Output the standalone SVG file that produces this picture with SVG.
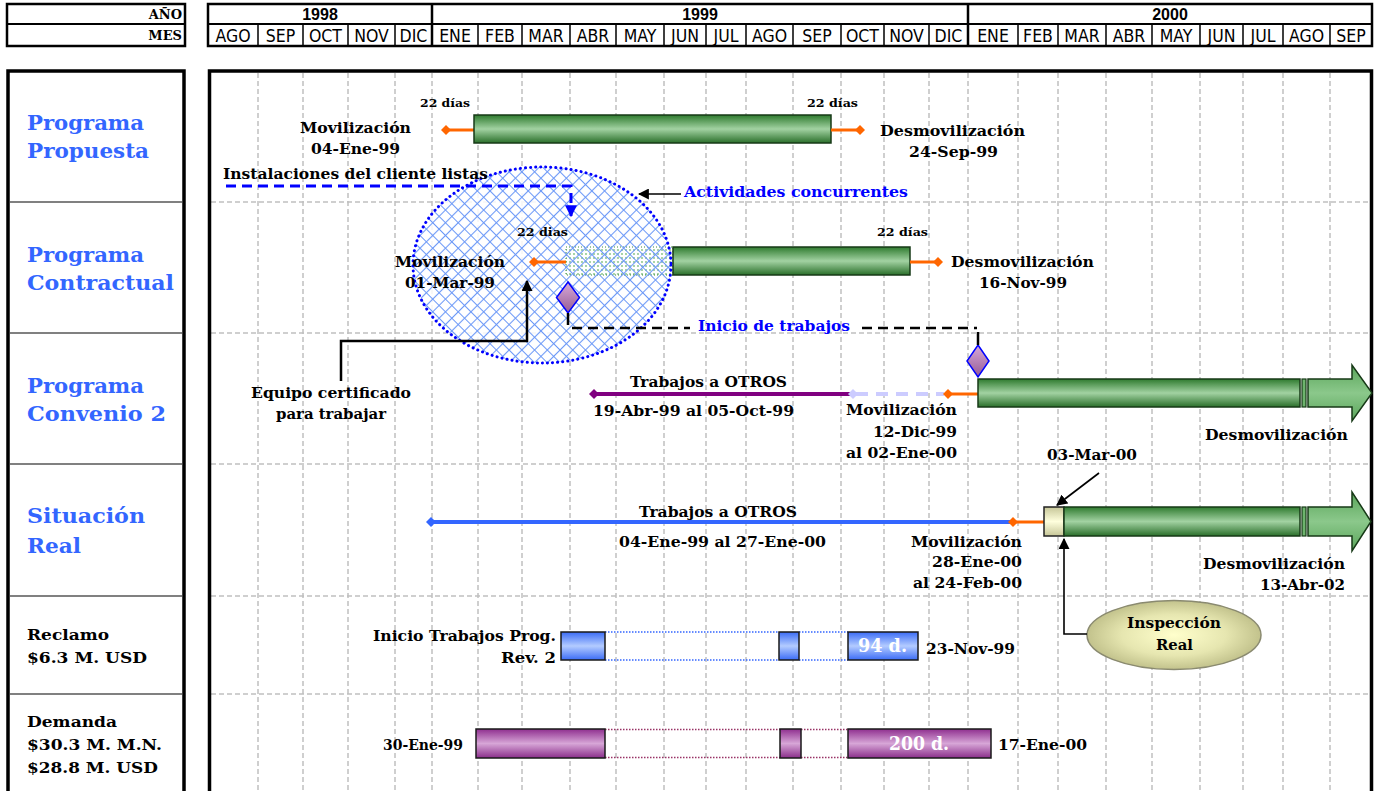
<svg xmlns="http://www.w3.org/2000/svg" width="1379" height="791" viewBox="0 0 1379 791">
<defs>
<linearGradient id="gGreen" x1="0" y1="0" x2="0" y2="1">
<stop offset="0" stop-color="#2f7b2f"/><stop offset="0.5" stop-color="#a2d2a2"/><stop offset="1" stop-color="#2a6f2a"/>
</linearGradient>
<linearGradient id="gArrow" x1="0" y1="0" x2="0" y2="1">
<stop offset="0" stop-color="#5aa55a"/><stop offset="0.5" stop-color="#8bc88b"/><stop offset="1" stop-color="#5aa55a"/>
</linearGradient>
<linearGradient id="gBlue" x1="0" y1="0" x2="0" y2="1">
<stop offset="0" stop-color="#3b6cf6"/><stop offset="0.5" stop-color="#b3cbff"/><stop offset="1" stop-color="#3b6cf6"/>
</linearGradient>
<linearGradient id="gPurple" x1="0" y1="0" x2="0" y2="1">
<stop offset="0" stop-color="#8f2f8f"/><stop offset="0.5" stop-color="#d7a6d7"/><stop offset="1" stop-color="#8a2d8a"/>
</linearGradient>
<linearGradient id="gCream" x1="0" y1="0" x2="0" y2="1">
<stop offset="0" stop-color="#c6c698"/><stop offset="0.5" stop-color="#ffffdd"/><stop offset="1" stop-color="#c6c698"/>
</linearGradient>
<linearGradient id="gDiamond" x1="0" y1="0" x2="0" y2="1">
<stop offset="0" stop-color="#d8aad8"/><stop offset="1" stop-color="#955b95"/>
</linearGradient>
<radialGradient id="gInsp" cx="0.5" cy="0.5" r="0.5">
<stop offset="0" stop-color="#ffffcc"/><stop offset="0.6" stop-color="#e6e6b0"/><stop offset="1" stop-color="#c2c28c"/>
</radialGradient>
<pattern id="hatch" width="9" height="9" patternUnits="userSpaceOnUse" patternTransform="rotate(45)">
<path d="M0 4.5H9M4.5 0V9" stroke="#6b98f7" stroke-width="1.1"/>
</pattern>
<pattern id="dots" width="4" height="4" patternUnits="userSpaceOnUse">
<circle cx="2" cy="2" r="0.9" fill="#7fbf7f"/>
</pattern>
<marker id="ahB" viewBox="0 0 10 10" refX="9" refY="5" markerWidth="11" markerHeight="11" markerUnits="userSpaceOnUse" orient="auto">
<path d="M0,0 L10,5 L0,10 Z" fill="#000"/>
</marker>
<marker id="ahBlue" viewBox="0 0 10 10" refX="9" refY="5" markerWidth="12" markerHeight="12" markerUnits="userSpaceOnUse" orient="auto">
<path d="M0,0 L10,5 L0,10 Z" fill="#0000FF"/>
</marker>
<path id="dia" d="M0,-5L5,0L0,5L-5,0Z"/>
</defs>
<style>
.b{font-family:"DejaVu Serif","Liberation Serif",serif;font-weight:bold;font-size:15px;fill:#000}
.s{font-size:11px}
.lb{font-family:"DejaVu Serif","Liberation Serif",serif;font-weight:bold;font-size:20px;fill:#3366FF}
.lk{font-size:15.5px}
.blue{fill:#0000FF}
.w{fill:#fff;font-size:18px}
.mon{font-family:"Liberation Sans Narrow","DejaVu Sans Condensed","Liberation Sans",sans-serif;font-stretch:condensed;font-size:17.5px;text-anchor:middle;fill:#000}
.yr{font-family:"Liberation Sans","DejaVu Sans",sans-serif;font-weight:bold;font-size:16px;text-anchor:middle;fill:#000}
.hd{font-family:"DejaVu Serif","Liberation Serif",serif;font-weight:bold;font-size:13px;text-anchor:end;fill:#000}
.grid{stroke:#c0c0c0;stroke-width:1.5;stroke-dasharray:5 3;fill:none}
.bar{fill:url(#gGreen);stroke:#173a17;stroke-width:1.5}
.org{stroke:#FF6600;stroke-width:3;fill:none}
.con{fill:none;stroke:#000}
</style>
<rect width="1379" height="791" fill="#fff"/>

<g id="header">
<rect x="7" y="4" width="178" height="42" fill="#fff" stroke="#000" stroke-width="2.5"/>
<line x1="7" y1="24" x2="185" y2="24" stroke="#000" stroke-width="2"/>
<text class="hd" x="182" y="19">AÑO</text>
<text class="hd" x="182" y="40">MES</text>
<rect x="208" y="4" width="1164" height="42" fill="#fff" stroke="#000" stroke-width="2.5"/>
<line x1="208" y1="24" x2="1372" y2="24" stroke="#000" stroke-width="2"/>
<path d="M432 4V46M968 4V46" stroke="#000" stroke-width="2.5"/>
<path d="M258 24V46M303 24V46M348 24V46M395 24V46M478 24V46M522 24V46M570 24V46M616 24V46M664 24V46M706 24V46M746 24V46M793 24V46M841 24V46M884 24V46M929 24V46M1018 24V46M1058 24V46M1106 24V46M1152 24V46M1200 24V46M1243 24V46M1283 24V46M1330 24V46" stroke="#000" stroke-width="1.5"/>
<text class="yr" x="320" y="20">1998</text>
<text class="yr" x="700" y="20">1999</text>
<text class="yr" x="1170" y="20">2000</text>
<text class="mon" x="233" y="42">AGO</text>
<text class="mon" x="280.5" y="42">SEP</text>
<text class="mon" x="325.5" y="42">OCT</text>
<text class="mon" x="371.5" y="42">NOV</text>
<text class="mon" x="413.5" y="42">DIC</text>
<text class="mon" x="455" y="42">ENE</text>
<text class="mon" x="500" y="42">FEB</text>
<text class="mon" x="546" y="42">MAR</text>
<text class="mon" x="593" y="42">ABR</text>
<text class="mon" x="640" y="42">MAY</text>
<text class="mon" x="685" y="42">JUN</text>
<text class="mon" x="726" y="42">JUL</text>
<text class="mon" x="769.5" y="42">AGO</text>
<text class="mon" x="817" y="42">SEP</text>
<text class="mon" x="862.5" y="42">OCT</text>
<text class="mon" x="906.5" y="42">NOV</text>
<text class="mon" x="948.5" y="42">DIC</text>
<text class="mon" x="993" y="42">ENE</text>
<text class="mon" x="1038" y="42">FEB</text>
<text class="mon" x="1082" y="42">MAR</text>
<text class="mon" x="1129" y="42">ABR</text>
<text class="mon" x="1176" y="42">MAY</text>
<text class="mon" x="1221.5" y="42">JUN</text>
<text class="mon" x="1263" y="42">JUL</text>
<text class="mon" x="1306.5" y="42">AGO</text>
<text class="mon" x="1351" y="42">SEP</text>
</g>

<g id="left-panel">
<rect x="8" y="71" width="176" height="740" fill="#fff" stroke="#000" stroke-width="3.5"/>
<path d="M10 202H182M10 333H182M10 464H182M10 596H182M10 694H182" stroke="#808080" stroke-width="2"/>
<text class="lb" x="27" y="130" textLength="117" lengthAdjust="spacingAndGlyphs">Programa</text>
<text class="lb" x="27" y="158" textLength="122" lengthAdjust="spacingAndGlyphs">Propuesta</text>
<text class="lb" x="27" y="262" textLength="117" lengthAdjust="spacingAndGlyphs">Programa</text>
<text class="lb" x="27" y="290" textLength="147" lengthAdjust="spacingAndGlyphs">Contractual</text>
<text class="lb" x="27" y="393" textLength="117" lengthAdjust="spacingAndGlyphs">Programa</text>
<text class="lb" x="27" y="421" textLength="139" lengthAdjust="spacingAndGlyphs">Convenio 2</text>
<text class="lb" x="27" y="523" textLength="118" lengthAdjust="spacingAndGlyphs">Situación</text>
<text class="lb" x="27" y="553" textLength="54" lengthAdjust="spacingAndGlyphs">Real</text>
<text class="b lk" x="27" y="640" textLength="82" lengthAdjust="spacingAndGlyphs">Reclamo</text>
<text class="b lk" x="27" y="663" textLength="120" lengthAdjust="spacingAndGlyphs">$6.3 M. USD</text>
<text class="b lk" x="27" y="727" textLength="90" lengthAdjust="spacingAndGlyphs">Demanda</text>
<text class="b lk" x="27" y="750" textLength="135" lengthAdjust="spacingAndGlyphs">$30.3 M. M.N.</text>
<text class="b lk" x="27" y="773" textLength="131" lengthAdjust="spacingAndGlyphs">$28.8 M. USD</text>
</g>

<g id="chart-frame">
<rect x="209.5" y="71" width="1162" height="740" fill="#fff"/>
<path class="grid" d="M258 73V791M303 73V791M348 73V791M395 73V791M432 73V791M478 73V791M522 73V791M570 73V791M616 73V791M664 73V791M706 73V791M746 73V791M793 73V791M841 73V791M884 73V791M929 73V791M968 73V791M1018 73V791M1058 73V791M1106 73V791M1152 73V791M1200 73V791M1243 73V791M1283 73V791M1330 73V791"/>
<path class="grid" d="M211 202H1370M211 333H1370M211 464H1370M211 596H1370M211 694H1370"/>
<rect x="209.5" y="71" width="1162" height="740" fill="none" stroke="#000" stroke-width="3.5"/>
</g>

<g id="node-actividades-concurrentes">
<ellipse cx="542" cy="265" rx="129" ry="98" fill="#fff" fill-opacity="0.85"/>
<rect x="566" y="247" width="107" height="28" fill="url(#dots)" stroke="#3a8a3a" stroke-width="1" stroke-dasharray="1 2"/>
<ellipse cx="542" cy="265" rx="129" ry="98" fill="url(#hatch)"/>
<ellipse cx="542" cy="265" rx="129" ry="98" fill="none" stroke="#0000FF" stroke-width="3" stroke-dasharray="0.1 5" stroke-linecap="round"/>
<text class="b blue" x="684" y="197" textLength="224" lengthAdjust="spacingAndGlyphs">Actividades concurrentes</text>
</g>

<g id="node-propuesta">
<line class="org" x1="446" y1="130" x2="474" y2="130"/>
<use href="#dia" x="446" y="130" fill="#FF6600"/>
<rect class="bar" x="474" y="115" width="357" height="28"/>
<line class="org" x1="831" y1="130" x2="860" y2="130"/>
<use href="#dia" x="860" y="130" fill="#FF6600"/>
<text class="b s" x="420" y="107" textLength="50" lengthAdjust="spacingAndGlyphs">22 días</text>
<text class="b s" x="807" y="107" textLength="51" lengthAdjust="spacingAndGlyphs">22 días</text>
<text class="b" x="300" y="133" textLength="111" lengthAdjust="spacingAndGlyphs">Movilización</text>
<text class="b" x="311" y="154" textLength="89" lengthAdjust="spacingAndGlyphs">04-Ene-99</text>
<text class="b" x="880" y="136" textLength="145" lengthAdjust="spacingAndGlyphs">Desmovilización</text>
<text class="b" x="909" y="157" textLength="89" lengthAdjust="spacingAndGlyphs">24-Sep-99</text>
<text class="b" x="223" y="179" textLength="265" lengthAdjust="spacingAndGlyphs">Instalaciones del cliente listas</text>
</g>

<g id="node-contractual">
<line class="org" x1="534" y1="262" x2="566" y2="262"/>
<use href="#dia" x="534" y="262" fill="#FF6600"/>
<rect class="bar" x="673" y="247" width="237" height="28"/>
<line class="org" x1="910" y1="262" x2="938" y2="262"/>
<use href="#dia" x="938" y="262" fill="#FF6600"/>
<polygon points="568,282 579.5,297.5 568,313 556.5,297.5" fill="url(#gDiamond)" stroke="#0000FF" stroke-width="1.5"/>
<text class="b s" x="517" y="236" textLength="51" lengthAdjust="spacingAndGlyphs">22 dias</text>
<text class="b s" x="877" y="236" textLength="51" lengthAdjust="spacingAndGlyphs">22 días</text>
<text class="b" x="395" y="267" textLength="110" lengthAdjust="spacingAndGlyphs">Movilización</text>
<text class="b" x="405" y="288" textLength="90" lengthAdjust="spacingAndGlyphs">01-Mar-99</text>
<text class="b" x="951" y="267" textLength="143" lengthAdjust="spacingAndGlyphs">Desmovilización</text>
<text class="b" x="979" y="288" textLength="88" lengthAdjust="spacingAndGlyphs">16-Nov-99</text>
</g>

<g id="node-equipo-certificado">
<text class="b" x="251" y="398" textLength="160" lengthAdjust="spacingAndGlyphs">Equipo certificado</text>
<text class="b" x="276" y="419" textLength="110" lengthAdjust="spacingAndGlyphs">para trabajar</text>
</g>

<g id="node-convenio2">
<line x1="594" y1="394" x2="850" y2="394" stroke="#800080" stroke-width="4"/>
<use href="#dia" x="594" y="394" fill="#800080"/>
<line x1="856" y1="394" x2="944" y2="394" stroke="#CCCCFF" stroke-width="4" stroke-dasharray="12 8"/>
<use href="#dia" x="853" y="394" fill="#CCCCFF"/>
<line class="org" x1="948" y1="394" x2="978" y2="394"/>
<use href="#dia" x="948" y="394" fill="#FF6600"/>
<polygon points="978,345 989,361 978,377 967,361" fill="url(#gDiamond)" stroke="#0000FF" stroke-width="1.5"/>
<rect class="bar" x="978" y="379" width="322" height="28"/>
<rect x="1302" y="379" width="4" height="28" fill="#6db46d" stroke="#173a17" stroke-width="1.2"/>
<path d="M1308 379H1352V365L1372 393L1352 421V407H1308Z" fill="url(#gArrow)" stroke="#173a17" stroke-width="1.5"/>
<text class="b" x="630" y="387" textLength="157" lengthAdjust="spacingAndGlyphs">Trabajos a OTROS</text>
<text class="b" x="593" y="416" textLength="201" lengthAdjust="spacingAndGlyphs">19-Abr-99 al 05-Oct-99</text>
<text class="b" x="846" y="415" textLength="111" lengthAdjust="spacingAndGlyphs">Movilización</text>
<text class="b" x="873" y="437" textLength="84" lengthAdjust="spacingAndGlyphs">12-Dic-99</text>
<text class="b" x="846" y="458" textLength="111" lengthAdjust="spacingAndGlyphs">al 02-Ene-00</text>
<text class="b" x="1205" y="440" textLength="143" lengthAdjust="spacingAndGlyphs">Desmovilización</text>
<text class="b" x="1047" y="460" textLength="90" lengthAdjust="spacingAndGlyphs">03-Mar-00</text>
</g>

<g id="node-situacion-real">
<line x1="431" y1="522" x2="1013" y2="522" stroke="#3366FF" stroke-width="4"/>
<use href="#dia" x="431" y="522" fill="#3366FF"/>
<line class="org" x1="1013" y1="522" x2="1044" y2="522"/>
<use href="#dia" x="1013" y="522" fill="#FF6600"/>
<rect x="1044" y="507" width="20" height="29" fill="url(#gCream)" stroke="#222" stroke-width="1.5"/>
<rect class="bar" x="1064" y="507" width="236" height="29"/>
<rect x="1302" y="507" width="4" height="29" fill="#6db46d" stroke="#173a17" stroke-width="1.2"/>
<path d="M1308 507H1352V492L1371 521.5L1352 551V536H1308Z" fill="url(#gArrow)" stroke="#173a17" stroke-width="1.5"/>
<text class="b" x="639" y="517" textLength="158" lengthAdjust="spacingAndGlyphs">Trabajos a OTROS</text>
<text class="b" x="619" y="547" textLength="207" lengthAdjust="spacingAndGlyphs">04-Ene-99 al 27-Ene-00</text>
<text class="b" x="911" y="547" textLength="111" lengthAdjust="spacingAndGlyphs">Movilización</text>
<text class="b" x="932" y="567" textLength="90" lengthAdjust="spacingAndGlyphs">28-Ene-00</text>
<text class="b" x="913" y="588" textLength="109" lengthAdjust="spacingAndGlyphs">al 24-Feb-00</text>
<text class="b" x="1203" y="569" textLength="142" lengthAdjust="spacingAndGlyphs">Desmovilización</text>
<text class="b" x="1260" y="590" textLength="85" lengthAdjust="spacingAndGlyphs">13-Abr-02</text>
</g>

<g id="node-reclamo">
<path d="M605 632H779M799 632H848M605 660H779M799 660H848" stroke="#3366FF" stroke-width="1.5" stroke-dasharray="1.5 1.5"/>
<rect x="561" y="632" width="44" height="28" fill="url(#gBlue)" stroke="#1a1a1a" stroke-width="1.5"/>
<rect x="779" y="632" width="20" height="28" fill="url(#gBlue)" stroke="#1a1a1a" stroke-width="1.5"/>
<rect x="848" y="632" width="70" height="28" fill="url(#gBlue)" stroke="#1a1a1a" stroke-width="1.5"/>
<text class="b w" x="858" y="652" textLength="49" lengthAdjust="spacingAndGlyphs">94 d.</text>
<text class="b" x="373" y="641" textLength="183" lengthAdjust="spacingAndGlyphs">Inicio Trabajos Prog.</text>
<text class="b" x="501" y="663" textLength="55" lengthAdjust="spacingAndGlyphs">Rev. 2</text>
<text class="b" x="926" y="654" textLength="89" lengthAdjust="spacingAndGlyphs">23-Nov-99</text>
</g>

<g id="node-inspeccion-real">
<ellipse cx="1174" cy="635" rx="87" ry="34.5" fill="url(#gInsp)" stroke="#8a8a70" stroke-width="1.5"/>
<text class="b" x="1127" y="628" textLength="94" lengthAdjust="spacingAndGlyphs">Inspección</text>
<text class="b" x="1156" y="650" textLength="37" lengthAdjust="spacingAndGlyphs">Real</text>
</g>

<g id="node-demanda">
<path d="M605 729.5H780M801 729.5H848M605 757.5H780M801 757.5H848" stroke="#993366" stroke-width="1.5" stroke-dasharray="1.5 1.5"/>
<rect x="476" y="729" width="129" height="29" fill="url(#gPurple)" stroke="#1a1a1a" stroke-width="1.5"/>
<rect x="780" y="729" width="21" height="29" fill="url(#gPurple)" stroke="#1a1a1a" stroke-width="1.5"/>
<rect x="848" y="729" width="143" height="29" fill="url(#gPurple)" stroke="#1a1a1a" stroke-width="1.5"/>
<text class="b w" x="889" y="750" textLength="60" lengthAdjust="spacingAndGlyphs">200 d.</text>
<text class="b" x="383" y="750" textLength="80" lengthAdjust="spacingAndGlyphs">30-Ene-99</text>
<text class="b" x="998" y="750" textLength="89" lengthAdjust="spacingAndGlyphs">17-Ene-00</text>
</g>

<g id="node-inicio-trabajos">
<text class="b blue" x="698" y="331" textLength="152" lengthAdjust="spacingAndGlyphs">Inicio de trabajos</text>
</g>

<g id="connectors">
<path d="M226 186H571V216" fill="none" stroke="#0000FF" stroke-width="3" stroke-dasharray="10 6" marker-end="url(#ahBlue)"/>
<path class="con" d="M681 194H639" stroke-width="1.6" marker-end="url(#ahB)"/>
<path class="con" d="M341 381V341H527V281" stroke-width="2.5" marker-end="url(#ahB)"/>
<path class="con" d="M568 313V325M978 332V345" stroke-width="2.5"/>
<path class="con" d="M572 328H690M862 328H977" stroke-width="2.5" stroke-dasharray="10 6"/>
<path class="con" d="M1099 473L1057 505" stroke-width="1.6" marker-end="url(#ahB)"/>
<path class="con" d="M1087 634H1064V539" stroke-width="1.6" marker-end="url(#ahB)"/>
</g>
</svg>
